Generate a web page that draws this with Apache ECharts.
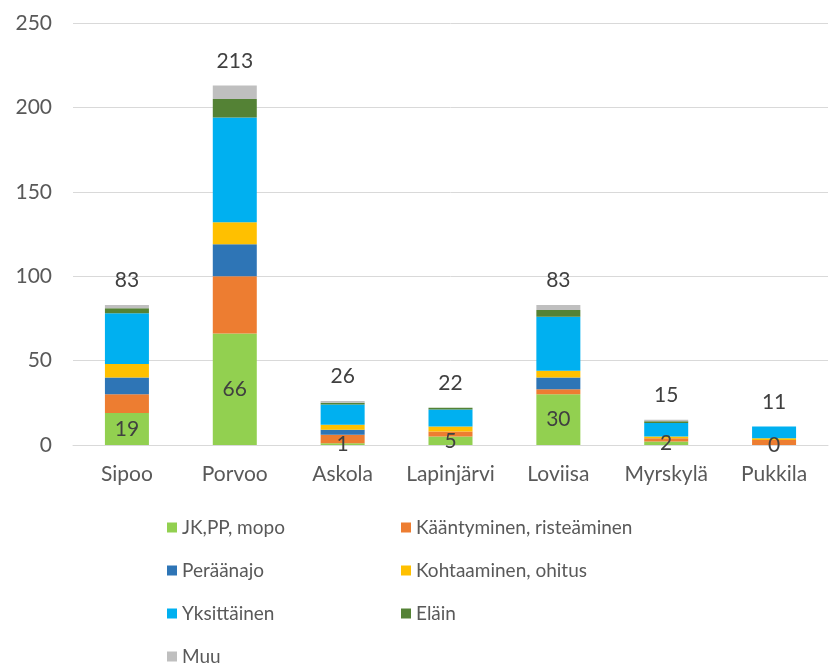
<!DOCTYPE html>
<html>
<head>
<meta charset="utf-8">
<script src="https://cdn.jsdelivr.net/npm/echarts@6/dist/echarts.min.js"></script>
<style>
  html, body { margin: 0; padding: 0; background: #fff; }
  #chart { width: 829px; height: 666px; }
</style>
</head>
<body>
<div id="chart"></div>
<script>
// kunnat
const categories = ['Sipoo', 'Porvoo', 'Askola', 'Lapinjärvi', 'Loviisa', 'Myrskylä', 'Pukkila'];
// onnettomuustyypit
const jkpp        = [19, 66, 1, 5, 30, 2, 0];
const kaantyminen = [11, 34, 5, 3, 3, 2, 3];
const peraanajo   = [10, 19, 3, 0, 7, 0, 0];
const kohtaaminen = [8, 13, 3, 3, 4, 1, 1];
const yksittainen = [30, 62, 12, 10, 32, 8, 7];
const elain       = [3, 11, 1, 1, 4, 1, 0];
const muu         = [2, 8, 1, 0, 3, 1, 0];
const yTicks = [0, 50, 100, 150, 200, 250];

const totals = categories.map((c, i) =>
  jkpp[i] + kaantyminen[i] + peraanajo[i] + kohtaaminen[i] + yksittainen[i] + elain[i] + muu[i]);

const FONT = 'Lato';
const chart = echarts.init(document.getElementById('chart'));

function bar(name, data, color, extra) {
  return Object.assign({
    name: name,
    type: 'bar',
    stack: 'total',
    data: data,
    barWidth: 44,
    itemStyle: { color: color },
    emphasis: { disabled: true }
  }, extra || {});
}

const legendText = { fontSize: 19, color: '#595959', fontFamily: FONT };

const option = {
  animation: false,
  textStyle: { fontFamily: FONT },
  grid: { left: 73, right: 1, top: 23, bottom: 221 },
  legend: [
    {
      orient: 'vertical', left: 167, top: 518, height: 160, itemGap: 24,
      padding: 0,
      itemWidth: 10, itemHeight: 10, icon: 'rect',
      textStyle: legendText,
      data: ['JK,PP, mopo', 'Peräänajo', 'Yksittäinen', 'Muu']
    },
    {
      orient: 'vertical', left: 401, top: 518, height: 160, itemGap: 24,
      padding: 0,
      itemWidth: 10, itemHeight: 10, icon: 'rect',
      textStyle: legendText,
      data: ['Kääntyminen, risteäminen', 'Kohtaaminen, ohitus', 'Eläin']
    }
  ],
  xAxis: {
    type: 'category',
    data: categories,
    axisLine: { lineStyle: { color: '#d9d9d9', width: 1 } },
    axisTick: { show: false },
    axisLabel: { fontSize: 21, color: '#595959', margin: 19, fontFamily: FONT, interval: 0, hideOverlap: false }
  },
  yAxis: {
    type: 'value',
    min: yTicks[0],
    max: yTicks[yTicks.length - 1],
    interval: 50,
    axisLine: { show: false },
    axisTick: { show: false },
    splitLine: { lineStyle: { color: '#d9d9d9', width: 1 } },
    axisLabel: { fontSize: 21, color: '#595959', margin: 21, fontFamily: FONT }
  },
  series: [
    bar('JK,PP, mopo', jkpp, '#92d050', {
      label: { show: true, position: 'inside', fontSize: 21, color: '#404040', fontFamily: FONT }
    }),
    bar('Kääntyminen, risteäminen', kaantyminen, '#ed7d31'),
    bar('Peräänajo', peraanajo, '#2e75b6'),
    bar('Kohtaaminen, ohitus', kohtaaminen, '#ffc000'),
    bar('Yksittäinen', yksittainen, '#00b0f0'),
    bar('Eläin', elain, '#548235'),
    bar('Muu', muu, '#bfbfbf', {
      label: {
        show: true, position: 'top', distance: 14,
        fontSize: 21, color: '#404040', fontFamily: FONT,
        formatter: p => totals[p.dataIndex]
      }
    })
  ]
};

chart.setOption(option);
</script>
</body>
</html>
